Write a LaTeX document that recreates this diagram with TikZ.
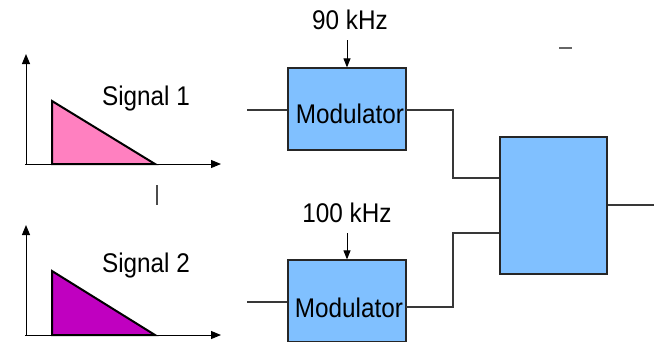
\documentclass[tikz,border=0pt]{standalone}
\usepackage{fontspec}
\usepackage{graphicx}
\setmainfont{Liberation Sans}
\usetikzlibrary{arrows.meta}
\definecolor{boxblue}{HTML}{80C0FF}
\definecolor{sigpink}{HTML}{FF80C0}
\definecolor{sigpurple}{HTML}{C000C0}
\definecolor{wire}{HTML}{383838}
\newcommand{\condtxt}[1]{\scalebox{0.9}[1]{#1}}
\begin{document}
\begin{tikzpicture}[x=1pt,y=-1pt,
  lbl/.style={anchor=base,inner sep=0pt,font=\fontsize{27}{29}\selectfont},
  blk/.style={draw=black!85,fill=boxblue,line width=1.2pt,inner sep=0pt},
  conn/.style={draw=wire,line width=1.2pt},
  axis/.style={draw=black,line width=1pt,-{Triangle[length=10pt,width=8pt]}},
  feed/.style={draw=black,line width=1pt,-{Triangle[length=9pt,width=7pt]}},
  sig/.style={draw=black,line width=2pt,line join=miter}]
\useasboundingbox (0,0) rectangle (654,341);
\clip (0,0) rectangle (654,341);
% signal 1 plot
\draw[axis] (25,164) -- (221,164);
\draw[axis] (26,164) -- (26,54);
\draw[sig,fill=sigpink] (52,164) -- (52,101) -- (155,164) -- cycle;
\node[lbl] (s1) at (146,105) {\condtxt{Signal 1}};
% signal 2 plot
\draw[axis] (25,335) -- (221,335);
\draw[axis] (26,335) -- (26,225);
\draw[sig,fill=sigpurple] (52,335) -- (52,271) -- (155,335) -- cycle;
\node[lbl] (s2) at (146,272) {\condtxt{Signal 2}};
% stray marks
\draw[conn,draw=black!70] (157,185) -- (157,205);
\draw[conn,draw=black!60,line width=1.4pt] (559,48) -- (572,48);
% modulators
\node[blk,minimum width=118pt,minimum height=82pt] (m1) at (347,109) {};
\node[blk,minimum width=118pt,minimum height=82pt] (m2) at (347,301) {};
\node[blk,minimum width=107pt,minimum height=137pt] (comb) at (553.5,205.5) {};
\node[lbl] (t1) at (350,123) {\condtxt{Modulator}};
\node[lbl] (t2) at (349,317) {\condtxt{Modulator}};
\node[lbl] (f1) at (350,29) {\condtxt{90 kHz}};
\node[lbl] (f2) at (347,222) {\condtxt{100 kHz}};
% feed arrows
\coordinate (a1) at (347,40);
\coordinate (a2) at (347,233);
\draw[feed] (a1) -- (m1.north);
\draw[feed] (a2) -- (m2.north);
% inputs
\coordinate (i1) at (247,110);
\coordinate (i2) at (247,302);
\draw[conn] (i1) -- (i1 -| m1.west);
\draw[conn] (i2) -- (i2 -| m2.west);
% outputs to combiner
\coordinate (o1) at (406,110);
\coordinate (o2) at (406,307);
\draw[conn] (o1) -- (453,110) -- (453,178) -- (comb.west |- 0,178);
\draw[conn] (o2) -- (453,307) -- (453,233) -- (comb.west |- 0,233);
\coordinate (out) at (654,205);
\draw[conn] (comb.east |- out) -- (out);
\end{tikzpicture}
\end{document}
